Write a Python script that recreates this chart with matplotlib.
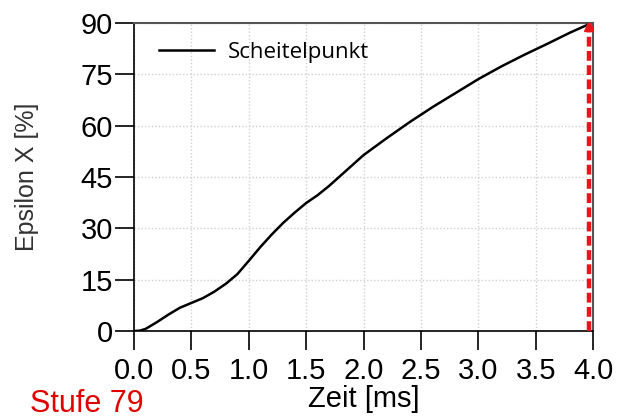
import matplotlib
matplotlib.use("Agg")
import matplotlib.pyplot as plt

# data
zeit_ms = [0.0, 0.05, 0.1, 0.15, 0.2, 0.3, 0.4, 0.5, 0.6, 0.7, 0.8, 0.9, 1.0,
           1.1, 1.2, 1.3, 1.4, 1.5, 1.6, 1.7, 1.8, 1.9, 2.0, 2.2, 2.4, 2.6,
           2.8, 3.0, 3.2, 3.4, 3.6, 3.8, 3.96]
epsilon_x = [0.0, 0.1, 0.6, 1.6, 2.6, 4.8, 6.8, 8.2, 9.6, 11.5, 13.8, 16.6, 20.5,
             24.5, 28.2, 31.6, 34.6, 37.4, 39.7, 42.4, 45.4, 48.4, 51.4, 56.3,
             61.0, 65.4, 69.5, 73.6, 77.3, 80.7, 83.9, 87.2, 89.6]
marker_t = 3.965
marker_y = 89.8
x_ticks = [0.0, 0.5, 1.0, 1.5, 2.0, 2.5, 3.0, 3.5, 4.0]
y_ticks = [0, 15, 30, 45, 60, 75, 90]
series_name = "Scheitelpunkt"
stage_label = "Stufe 79"

fig = plt.figure(figsize=(6.19, 4.19), dpi=100)
ax = fig.add_axes([0.2165, 0.21, 0.7415, 0.735])

ax.plot(zeit_ms, epsilon_x, color="black", lw=1.8, label=series_name, zorder=3)
ax.plot([marker_t, marker_t], [0, marker_y], color="#e8161b", lw=3.2,
        dashes=(2.2, 1.0), zorder=4)
ax.plot([marker_t], [marker_y - 0.8], marker="^", color="#e8161b", ms=7, zorder=5)

ax.set_xlim(0, 4.0)
ax.set_ylim(0, 90)
ax.set_xticks(x_ticks)
ax.set_xticklabels([f"{v:.1f}" for v in x_ticks])
ax.set_yticks(y_ticks)
ax.set_yticklabels([str(v) for v in y_ticks])

ax.grid(True, color="#d0d0d0", linestyle=(0, (1, 1.5)), lw=1.0)
ax.set_axisbelow(True)

for lbl in ax.get_xticklabels() + ax.get_yticklabels():
    lbl.set_fontfamily("Liberation Sans")
ax.tick_params(axis="both", direction="out", length=14, width=1.2,
               labelsize=21, colors="black")
ax.tick_params(axis="x", pad=5)
ax.tick_params(axis="y", pad=1)

for side in ["left", "bottom"]:
    ax.spines[side].set_color("black")
    ax.spines[side].set_linewidth(1.2)
for side in ["top", "right"]:
    ax.spines[side].set_color("#555555")
    ax.spines[side].set_linewidth(1.5)

ax.set_xlabel("Zeit [ms]", fontsize=21, family="Liberation Sans", labelpad=0)
ax.set_ylabel("Epsilon X [%]", fontsize=18, family="Liberation Sans",
              color="#333333", labelpad=30)

leg = ax.legend(loc="upper left", frameon=False,
                prop={"family": "Open Sans", "size": 16},
                handlelength=2.5, handletextpad=0.6, borderaxespad=0.3,
                bbox_to_anchor=(0.02, 0.99))

fig.text(30 / 619, 1 - 412 / 419, stage_label, color="#e00000", fontsize=22,
         family="Liberation Sans", va="baseline", ha="left")

fig.savefig("out.png", dpi=100)
